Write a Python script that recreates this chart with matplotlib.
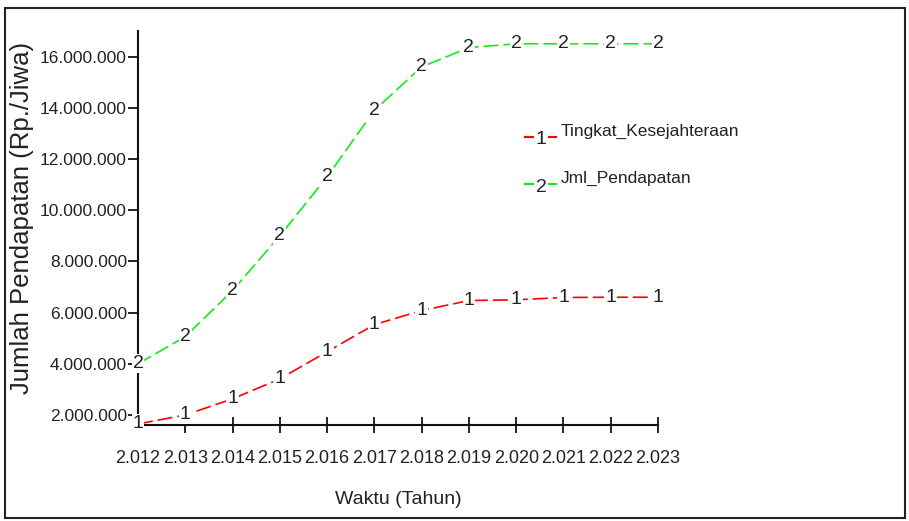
import matplotlib.pyplot as plt
from matplotlib.lines import Line2D
from matplotlib.patches import Rectangle
from matplotlib.ticker import FuncFormatter

plt.rcParams['font.family'] = ['Liberation Sans', 'DejaVu Sans']

years = [2012, 2013, 2014, 2015, 2016, 2017, 2018, 2019, 2020, 2021, 2022, 2023]
tingkat_kesejahteraan = [1.65e6, 2.0e6, 2.63e6, 3.41e6, 4.47e6, 5.53e6,
                         6.08e6, 6.47e6, 6.5e6, 6.59e6, 6.6e6, 6.6e6]
jml_pendapatan = [4.0e6, 5.06e6, 6.86e6, 9.0e6, 11.3e6, 13.9e6,
                  15.6e6, 16.35e6, 16.5e6, 16.5e6, 16.5e6, 16.5e6]
y_ticks = [2e6, 4e6, 6e6, 8e6, 10e6, 12e6, 14e6, 16e6]

text_col = '#222222'


def dotted_thousands(v, pos=None):
    return f'{int(round(v)):,}'.replace(',', '.')


fig = plt.figure(figsize=(9.09, 5.21), dpi=100)
ax = fig.add_axes([0.1518, 0.1843, 0.5721, 0.7562])

series = [
    (tingkat_kesejahteraan, '#ff0000', '1', 'Tingkat_Kesejahteraan'),
    (jml_pendapatan, '#11ee11', '2', 'Jml_Pendapatan'),
]
for vals, col, mark, name in series:
    ax.plot(years, vals, color=col, lw=1.2, ls=(0, (9, 3)), zorder=2,
            clip_on=False)
    for x, y in zip(years, vals):
        ax.text(x, y, mark, ha='center', va='center', fontsize=14,
                color=text_col, zorder=3,
                bbox=dict(boxstyle='square,pad=0.05', fc='white', ec='none'))

ax.set_xlim(2012, 2023)
ax.set_ylim(1.61e6, 17.0e6)
ax.set_xticks(years)
ax.xaxis.set_major_formatter(FuncFormatter(lambda v, p: f'{v / 1000:.3f}'))
ax.set_yticks(y_ticks)
ax.yaxis.set_major_formatter(FuncFormatter(dotted_thousands))

for s in ['top', 'right']:
    ax.spines[s].set_visible(False)
for s in ['left', 'bottom']:
    ax.spines[s].set_linewidth(1.5)
    ax.spines[s].set_color('#111111')
ax.tick_params(axis='x', direction='inout', length=12, width=1.2,
               labelsize=13, labelcolor=text_col, pad=12)
ax.tick_params(axis='y', direction='out', length=7, width=1.2,
               labelsize=12.5, labelcolor=text_col, pad=1)

ax.set_xlabel('Waktu (Tahun)', fontsize=14, color=text_col, labelpad=17)
ax.set_ylabel('Jumlah Pendapatan (Rp./Jiwa)', fontsize=18.5, color=text_col)
ax.yaxis.set_label_coords(-0.2, 0.525)

# legend drawn by hand, in figure coords
leg_y = [1 - 137 / 521, 1 - 184 / 521]
for (vals, col, mark, name), yy in zip(series, leg_y):
    fig.add_artist(Line2D([525 / 909, 556 / 909], [yy, yy], color=col,
                          lw=1.6))
    fig.text(541 / 909, yy - 3 / 521, mark, ha='center', va='center',
             fontsize=14, color=text_col,
             bbox=dict(boxstyle='square,pad=0.1', fc='white', ec='none'))
    fig.text(561 / 909, yy + 6 / 521, name, ha='left', va='center',
             fontsize=12.5, color=text_col)

# outer frame
fig.add_artist(Rectangle((5 / 909, 3 / 521), 900 / 909, 510 / 521,
                         transform=fig.transFigure, fill=False,
                         ec='#222222', lw=1.5))

fig.savefig('out.png', dpi=100)
